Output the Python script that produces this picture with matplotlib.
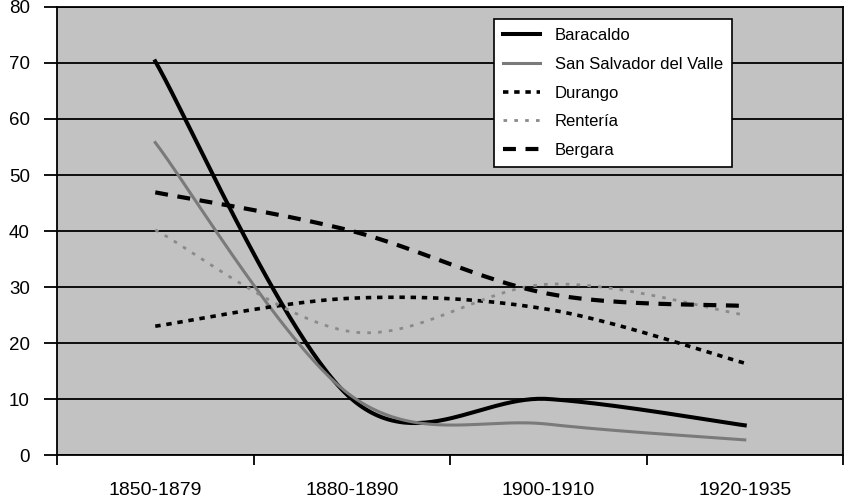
import numpy as np
import matplotlib
matplotlib.use("Agg")
import matplotlib.pyplot as plt

categories = ["1850-1879", "1880-1890", "1900-1910", "1920-1935"]
baracaldo = [70.3, 10.0, 10.0, 5.3]
san_salvador = [55.8, 10.5, 5.5, 2.7]
durango = [23.0, 28.0, 26.0, 16.4]
renteria = [40.2, 22.0, 30.5, 25.0]
bergara = [46.9, 40.0, 28.8, 26.6]
yticks = [0, 10, 20, 30, 40, 50, 60, 70, 80]


def smooth(y, n=60):
    """Excel-like smoothed line (cubic Bezier through the points)."""
    y = np.asarray(y, float)
    x = np.arange(len(y), dtype=float)
    P = np.column_stack([x, y])
    ext = np.vstack([P[0], P, P[-1]])
    out = []
    t = np.linspace(0, 1, n)[:, None]
    for i in range(len(P) - 1):
        p0, p3 = P[i], P[i + 1]
        c1 = p0 + (ext[i + 2] - ext[i]) / 6.0
        c2 = p3 - (ext[i + 3] - ext[i + 1]) / 6.0
        seg = ((1 - t) ** 3) * p0 + 3 * ((1 - t) ** 2) * t * c1 + 3 * (1 - t) * t ** 2 * c2 + t ** 3 * p3
        out.append(seg if i == 0 else seg[1:])
    out = np.vstack(out)
    return out[:, 0], out[:, 1]


plt.rcParams['font.family'] = ['Liberation Sans', 'DejaVu Sans']

fig = plt.figure(figsize=(8.47, 5.03), dpi=100)
ax = fig.add_axes([57 / 847, 48 / 503, 786 / 847, 448 / 503])
ax.set_facecolor('#c2c2c2')

series = [
    ("Baracaldo", baracaldo, dict(color='black', lw=2.9, ls='-')),
    ("San Salvador del Valle", san_salvador, dict(color='#7a7a7a', lw=2.2, ls='-')),
    ("Durango", durango, dict(color='black', lw=2.6, ls=(0, (1.5, 1.6)), dash_capstyle='butt')),
    ("Rentería", renteria, dict(color='#8a8a8a', lw=2.0, ls=(0, (1.3, 2.6)), dash_capstyle='butt')),
    ("Bergara", bergara, dict(color='black', lw=3.0, ls=(0, (3.1, 2.3)), dash_capstyle='butt')),
]

for name, vals, st in series:
    xs, ys = smooth(vals)
    ax.plot(xs, ys, label=name, zorder=3, **st)

ax.set_xlim(-0.5, 3.5)
ax.set_ylim(0, 80)
ax.set_yticks(yticks)
ax.yaxis.grid(True, color='black', lw=1.3)
ax.set_axisbelow(True)

ax.set_xticks(np.arange(-0.5, 4.0, 1.0))
ax.set_xticklabels([])
ax.set_xticks(np.arange(len(categories)), categories, minor=True)
ax.tick_params(axis='x', which='major', direction='out', length=7.5, width=1.3)
ax.tick_params(axis='x', which='minor', length=0, pad=19.5, labelsize=14)
ax.tick_params(axis='y', direction='out', length=9.5, width=1.3, pad=10, labelsize=13.5)

for s in ax.spines.values():
    s.set_color('black')
    s.set_linewidth(1.3)

leg = ax.legend(loc='upper left', bbox_to_anchor=(0.556, 0.973), frameon=True,
                fancybox=False, edgecolor='black', facecolor='white', framealpha=1,
                fontsize=12, handlelength=2.2, handletextpad=0.9, labelspacing=0.82,
                borderpad=0.55, borderaxespad=0)
leg.get_frame().set_linewidth(1.2)

fig.savefig('out.png', dpi=100)
